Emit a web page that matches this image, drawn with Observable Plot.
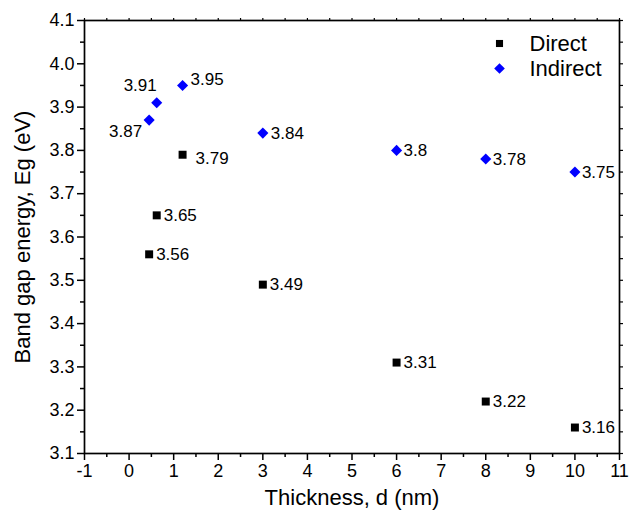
<!DOCTYPE html>
<html>
<head>
<meta charset="utf-8">
<script src="https://cdn.jsdelivr.net/npm/d3@7"></script>
<script src="https://cdn.jsdelivr.net/npm/@observablehq/plot@0.6"></script>
<style>
  html, body { margin: 0; padding: 0; background: white; }
</style>
</head>
<body>
<div id="chart"></div>
<script>
// ---- data ----
const thickness = [0.45, 0.62, 1.2, 3, 6, 8, 10];
const direct    = [3.56, 3.65, 3.79, 3.49, 3.31, 3.22, 3.16];
const indirect  = [3.87, 3.91, 3.95, 3.84, 3.80, 3.78, 3.75];
const directLabels   = ["3.56", "3.65", "3.79", "3.49", "3.31", "3.22", "3.16"];
const indirectLabels = ["3.87", "3.91", "3.95", "3.84", "3.8", "3.78", "3.75"];
const xTicks = [-1, 0, 1, 2, 3, 4, 5, 6, 7, 8, 9, 10, 11];
const xMinor = [-0.5, 0.5, 1.5, 2.5, 3.5, 4.5, 5.5, 6.5, 7.5, 8.5, 9.5, 10.5];
const yTicks = [3.1, 3.2, 3.3, 3.4, 3.5, 3.6, 3.7, 3.8, 3.9, 4.0, 4.1];
const yMinor = [3.15, 3.25, 3.35, 3.45, 3.55, 3.65, 3.75, 3.85, 3.95, 4.05];
const seriesNames = ["Direct", "Indirect"];

// ---- label placement (style only) ----
const directLabelStyle = [
  {dx: 7, dy: 0, anchor: "start"},
  {dx: 7, dy: 0, anchor: "start"},
  {dx: 13, dy: 4, anchor: "start"},
  {dx: 7, dy: 0, anchor: "start"},
  {dx: 7, dy: 0, anchor: "start"},
  {dx: 7, dy: 0, anchor: "start"},
  {dx: 7, dy: 0, anchor: "start"}
];
const indirectLabelStyle = [
  {dx: -7, dy: 11, anchor: "end"},
  {dx: 0, dy: -17, anchor: "end"},
  {dx: 8, dy: -6, anchor: "start"},
  {dx: 8, dy: 0, anchor: "start"},
  {dx: 7, dy: 0, anchor: "start"},
  {dx: 7, dy: 0, anchor: "start"},
  {dx: 7, dy: 0, anchor: "start"}
];

const directData = thickness.map((t, i) => ({x: t, y: direct[i], label: directLabels[i]}));
const indirectData = thickness.map((t, i) => ({x: t, y: indirect[i], label: indirectLabels[i]}));

const font = "'Liberation Sans', Arial, Helvetica, sans-serif";
const blue = "#0000ff";

const labelMarks = (data, styles, fill) => data.map((d, i) =>
  Plot.text([d], {
    x: "x", y: "y", text: "label",
    dx: styles[i].dx, dy: styles[i].dy, textAnchor: styles[i].anchor,
    fontSize: 17, fill
  })
);

const chart = Plot.plot({
  width: 629,
  height: 511,
  marginLeft: 84,
  marginRight: 10,
  marginTop: 20,
  marginBottom: 58,
  x: {domain: [-1, 11]},
  y: {domain: [3.1, 4.1]},
  style: {fontFamily: font, fontSize: "18px", color: "black", background: "white"},
  marks: [
    // axes
    Plot.axisX({anchor: "bottom", ticks: xTicks, tickSize: 7, tickPadding: 4, tickFormat: d => String(d), label: null, fontSize: 18, strokeWidth: 1.5}),
    Plot.axisX({anchor: "bottom", ticks: xMinor, tickSize: 4, tickFormat: () => "", label: null, strokeWidth: 1.5}),
    Plot.axisX({anchor: "top", ticks: xTicks.concat(xMinor), tickSize: 3, tickFormat: () => "", label: null, strokeWidth: 1.2}),
    Plot.axisY({anchor: "left", ticks: yTicks, tickSize: 7, tickPadding: 3, tickFormat: d3.format(".1f"), label: null, fontSize: 18, strokeWidth: 1.5}),
    Plot.axisY({anchor: "left", ticks: yMinor, tickSize: 4, tickFormat: () => "", label: null, strokeWidth: 1.5}),
    Plot.axisY({anchor: "right", ticks: yTicks.concat(yMinor), tickSize: 3, tickFormat: () => "", label: null, strokeWidth: 1.2}),
    Plot.frame({stroke: "black", strokeWidth: 1.7}),
    // data
    Plot.dot(directData, {x: "x", y: "y", symbol: "square", r: 4.5, fill: "black", stroke: "none"}),
    Plot.dot(indirectData, {x: "x", y: "y", symbol: d3.symbolDiamond2, r: 5, fill: blue, stroke: "none"}),
    ...labelMarks(directData, directLabelStyle, "black"),
    ...labelMarks(indirectData, indirectLabelStyle, "black"),
    // legend
    Plot.dot([seriesNames[0]], {frameAnchor: "top-right", dx: -120, dy: 23, symbol: "square", r: 4, fill: "black"}),
    Plot.dot([seriesNames[1]], {frameAnchor: "top-right", dx: -120, dy: 48, symbol: d3.symbolDiamond2, r: 4.8, fill: blue}),
    Plot.text([seriesNames[0]], {frameAnchor: "top-right", dx: -90, dy: 23, text: d => d, textAnchor: "start", lineAnchor: "middle", fontSize: 22, fill: "black"}),
    Plot.text([seriesNames[1]], {frameAnchor: "top-right", dx: -90, dy: 48, text: d => d, textAnchor: "start", lineAnchor: "middle", fontSize: 22, fill: "black"}),
    // axis titles
    Plot.text(["Thickness, d (nm)"], {frameAnchor: "bottom", dy: 44, text: d => d, textAnchor: "middle", lineAnchor: "middle", fontSize: 22, fill: "black"}),
    Plot.text(["Band gap energy, Eg (eV)"], {frameAnchor: "left", dx: -62, rotate: -90, text: d => d, textAnchor: "middle", lineAnchor: "middle", fontSize: 22, fill: "black"})
  ]
});

document.getElementById("chart").appendChild(chart);
</script>
</body>
</html>
